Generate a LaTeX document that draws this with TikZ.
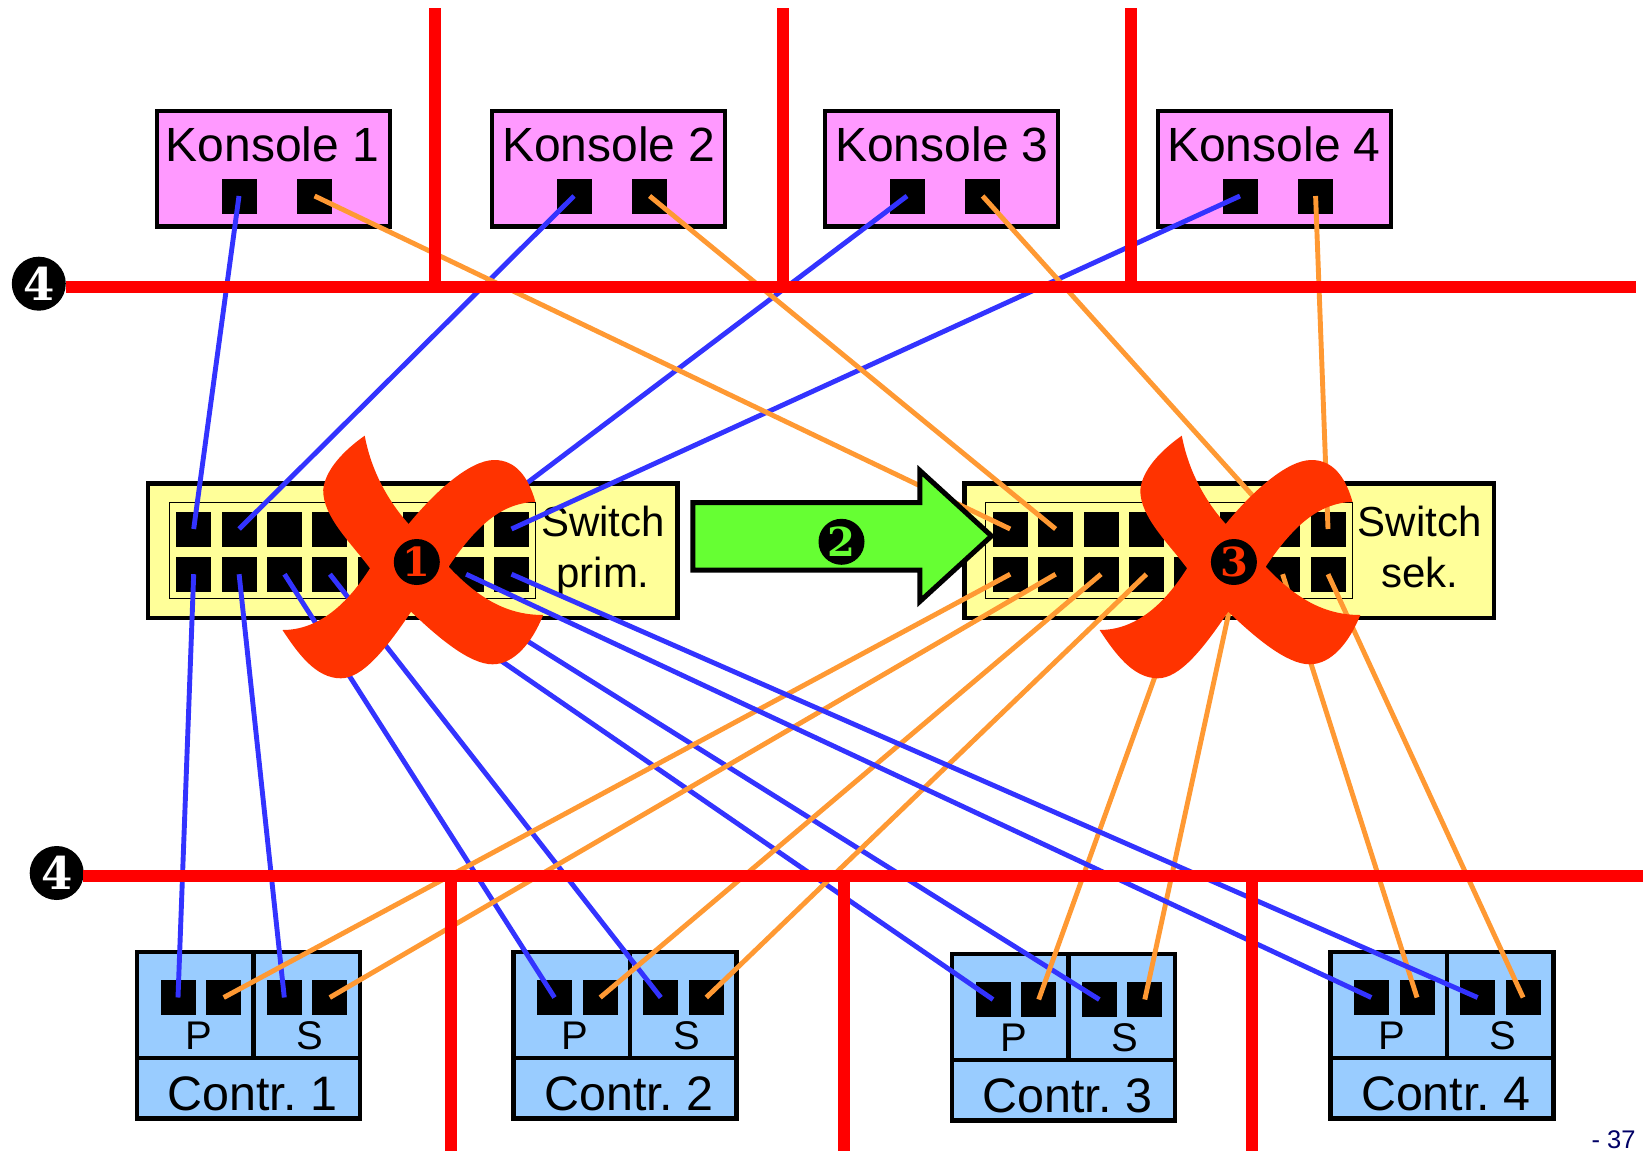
\documentclass[tikz,border=0pt]{standalone}
\usepackage{fontspec}
\setmainfont{Liberation Sans}
\newfontfamily\digfont{DejaVu Serif}
\definecolor{konsfill}{HTML}{FF99FF}
\definecolor{swfill}{HTML}{FFFF99}
\definecolor{ctfill}{HTML}{99CCFF}
\definecolor{blueln}{HTML}{3333FF}
\definecolor{orangeln}{HTML}{FF9933}
\definecolor{xred}{HTML}{FF3300}
\definecolor{arrowgreen}{HTML}{66FF33}
\definecolor{pagenavy}{HTML}{000066}
\tikzset{
  boxbase/.style={draw=black,line width=2.3pt,rectangle,inner sep=0pt,outer sep=0pt},
  konsbox/.style={boxbase,fill=konsfill,minimum width=116.5pt,minimum height=57.85pt},
  swbox/.style={boxbase,fill=swfill,minimum width=264.75pt,minimum height=67.15pt},
  ctbox/.style={boxbase,fill=ctfill,minimum width=111.5pt,minimum height=83.25pt},
  innerbox/.style={draw=black,line width=0.5pt,rectangle,inner sep=0pt,outer sep=0pt,minimum width=183.3pt,minimum height=48pt},
  portbox/.style={fill=black,rectangle,inner sep=0pt,outer sep=0pt,minimum width=17.5pt,minimum height=17.5pt},
  divider/.style={draw=black,line width=2.1pt},
  blueline/.style={draw=blueln,line width=2.45pt},
  orangeline/.style={draw=orangeln,line width=2.45pt},
  redline/.style={draw=red,line width=6pt},
  bigtext/.style={font=\fontsize{24}{24}\selectfont,anchor=base,inner sep=0pt},
  ctrtext/.style={font=\fontsize{24.2}{24}\selectfont,anchor=base,inner sep=0pt},
  swtext/.style={font=\fontsize{21}{21}\selectfont,anchor=base,inner sep=0pt},
  pstext/.style={font=\fontsize{20}{20}\selectfont,anchor=base,inner sep=0pt},
  badgesm/.style={circle,fill=black,inner sep=0pt,outer sep=0pt,minimum size=23pt,font=\digfont\bfseries\fontsize{20}{20}\selectfont},
  badgelg/.style={circle,fill=black,inner sep=0pt,outer sep=0pt,minimum size=27pt,text=white,font=\digfont\bfseries\fontsize{22.5}{22.5}\selectfont},
  crossmark/.style={fill=xred},
}
\newcommand{\crossshape}{
  (-52.1,-126.3)
  .. controls (-45.7,-92) and (-29.6,-62) .. (-8.2,-38)
  .. controls (16.8,-68.7) and (52.5,-102) .. (77.5,-102)
  .. controls (98.9,-102) and (111.4,-85.3) .. (118.6,-60.3)
  .. controls (88.2,-58.7) and (63.2,-42) .. (31.8,4.7)
  .. controls (63.2,38) and (91.8,53) .. (126.4,53)
  .. controls (115,81.3) and (97.1,102.3) .. (75.7,102.3)
  .. controls (52.5,102.3) and (20.4,74.7) .. (-5.7,49.7)
  .. controls (-31.4,88) and (-54.6,116.3) .. (-76,116.3)
  .. controls (-101,116.3) and (-119,91.3) .. (-134.3,68)
  .. controls (-97.5,68) and (-69,41.3) .. (-46.8,6.3)
  .. controls (-65.4,-18.7) and (-94,-45.3) .. (-93.6,-72)
  .. controls (-92,-92) and (-72.5,-112) .. (-52.1,-126.3) -- cycle
}
\begin{document}
\begin{tikzpicture}[x=0.5pt,y=-0.5pt]
\useasboundingbox (0,0) rectangle (1643,1151);
\clip (0,0) rectangle (1643,1151);

% consoles
\foreach \n/\dx/\tdx in {1/0/0,2/335/336.5,3/668/669.5,4/1001/1001.5}{
  \node[konsbox] (kons\n) at ({273.5+\dx},168.8) {};
  \node[bigtext] (konslabel\n) at ({272.5+\tdx},161.7) {Konsole \n};
  \node[portbox] (k\n a) at ({239+\dx},196) {};
  \node[portbox] (k\n b) at ({314.6+\dx},196) {};
}

% switches
\foreach \s/\dx/\la/\lb in {p/0/Switch/prim.,q/816.5/Switch/sek.}{
  \node[swbox] (sw\s) at ({412.75+\dx},550.85) {};
  \node[innerbox] (swinner\s) at ({352.65+\dx},550.3) {};
  \foreach \k in {0,...,7}{
    \node[portbox] (\s t\k) at ({193.7+45.4*\k+\dx},529) {};
    \node[portbox] (\s u\k) at ({193.7+45.4*\k+\dx},574.2) {};
  }
  \node[swtext] (swla\s) at ({603+\dx},536.7) {\la};
  \node[swtext] (swlb\s) at ({603+\dx},587.5) {\lb};
}

% controllers
\foreach \n/\dx/\dy in {1/0/0,2/376.5/0,3/815/2,4/1193.3/0}{
  \begin{scope}[shift={(\dx,\dy)}]
    \node[ctbox] (c\n) at (248.5,1035.25) {};
    \draw[divider] (137,1057.7) -- (360,1057.7);
    \draw[divider] (253.5,952) -- (253.5,1057.7);
    \node[portbox] (c\n a) at (178,997.5) {};
    \node[portbox] (c\n b) at (223.7,997.5) {};
    \node[portbox] (c\n c) at (284.3,997.5) {};
    \node[portbox] (c\n d) at (329.8,997.5) {};
    \node[pstext] (cp\n) at (198.7,1049) {P};
    \node[pstext] (cs\n) at (310,1049) {S};
    \node[ctrtext] (cl\n) at (252.5,1110.7) {Contr.\ \n};
  \end{scope}
}

% primary (blue) connections, first part
\foreach \a/\b in {k1a/pt0,k2a/pt1,k3a/pt6,k4a/pt7,pu0/c1a,pu1/c1c,pu2/c2a,pu3/c2c,pu4/c3a,pu5/c3c}
  \draw[blueline] (\a.center) -- (\b.center);
% secondary (orange) connections
\foreach \a/\b in {k1b/qt0,k2b/qt1,k3b/qt6,k4b/qt7,qu0/c1b,qu1/c1d,qu2/c2b,qu3/c2d,qu4/c3b,qu5/c3d,qu6/c4b,qu7/c4d}
  \draw[orangeline] (\a.center) -- (\b.center);
% blue connections that lie above the orange ones
\foreach \a/\b in {pu6/c4a,pu7/c4c}
  \draw[blueline] (\a.center) -- (\b.center);

% red buses
\node[badgelg] (busA) at (38.8,283.7) {4};
\node[badgelg] (busB) at (56.7,873) {4};
\coordinate (busAend) at (1635.6,287);
\coordinate (busBend) at (1643,876);
\draw[redline] (66.4,287) -- (busAend);
\draw[redline] (83.4,876) -- (busBend);
\foreach \x in {435,782.7,1130.6}
  \draw[redline] (\x,8.3) -- (\x,293);
\foreach \x in {450.7,843.5,1252}
  \draw[redline] (\x,870) -- (\x,1151);

% green arrow
\draw[fill=arrowgreen,draw=black,line width=2.5pt,miter limit=10]
  (692.8,502.5) -- (919.8,502.5) -- (919.8,470.5) -- (991.5,536) --
  (919.8,601.5) -- (919.8,570) -- (692.8,570) -- cycle;
\node[badgesm,text=arrowgreen] (two) at (841.5,541.8) {2};

% crosses
\begin{scope}[shift={(416.8,562)}]
  \fill[crossmark] \crossshape;
  \node[badgesm,text=xred] (one) at (0,0) {1};
\end{scope}
\begin{scope}[shift={(1233.9,562)}]
  \fill[crossmark] \crossshape;
  \node[badgesm,text=xred] (three) at (0,0) {3};
\end{scope}

% page number
\node[anchor=base east,inner sep=0pt,text=pagenavy,font=\fontsize{12.75}{13}\selectfont] (page) at (1636,1148) {- 37};
\end{tikzpicture}
\end{document}
